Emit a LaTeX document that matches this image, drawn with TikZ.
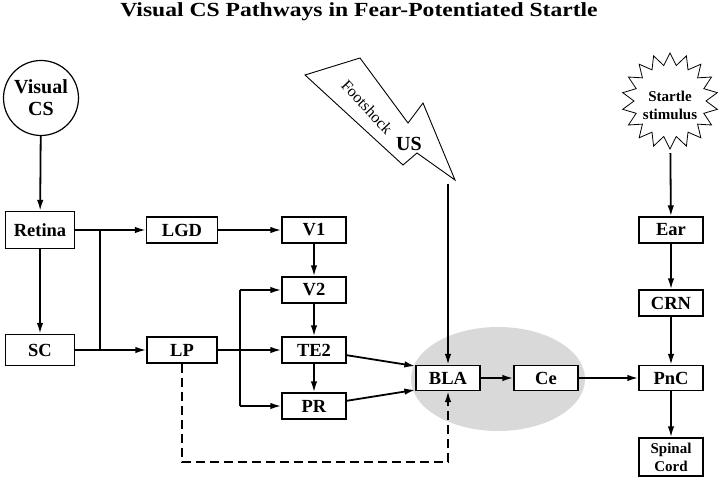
\documentclass[tikz,border=0pt]{standalone}
\usepackage{fontspec}
\setmainfont{Liberation Serif}
\usetikzlibrary{arrows.meta}

\tikzset{
  box/.style={draw, line width=1.3pt, fill=white, minimum width=64pt, minimum height=26pt, inner sep=0pt, font=\fontsize{18.5}{20}\selectfont\bfseries},
  conn/.style={line width=1.8pt, -{Latex[length=11pt, width=6.5pt]}},
  wire/.style={line width=1.8pt},
}

\begin{document}
\begin{tikzpicture}[x=1pt, y=-1pt]
\useasboundingbox (0,0) rectangle (720,478);
\node[anchor=base, font=\fontsize{20}{20}\selectfont\bfseries] (title) at (359,17) {\scalebox{1.18}[1]{Visual CS Pathways in Fear-Potentiated Startle}};

% amygdala
\fill[gray!30] (498,379) ellipse [x radius=87, y radius=52];

% stimuli
\node[draw, circle, line width=1.2pt, minimum size=75pt, inner sep=0pt, align=center, font=\fontsize{20}{22}\selectfont\bfseries] (cs) at (41,98) {Visual\\CS};
\draw[line width=0.8pt, shift={(670,101)}] (90:48) \foreach \i in {1,...,35} { -- ({90+10*\i}:{mod(\i,2)==0 ? 48 : 36}) } -- cycle;
\node[circle, minimum size=96pt, inner sep=0pt, align=center, font=\fontsize{15}{18}\selectfont\bfseries] (startle) at (670,105) {Startle\\stimulus};
\draw[line width=0.9pt, fill=white] (305,75) -- (360,58) -- (408,123) -- (423,103) -- (455,180) -- (417,153) -- (403,165) -- cycle;
\node[rotate=-47, font=\fontsize{16}{16}\selectfont] (footshock) at (367,107) {Footshock};
\node[font=\fontsize{20}{20}\selectfont\bfseries] (us) at (409,144) {US};
\coordinate (shock) at (448,184);

% boxes
\node[box, minimum width=69pt, minimum height=37pt] (retina) at (40,230) {Retina};
\node[box, minimum width=69pt, minimum height=31pt] (sc) at (40,350) {SC};
\node[box, minimum width=71pt] (lgd) at (182,230) {LGD};
\node[box, minimum width=70pt] (lp) at (182,350) {LP};
\node[box] (v1) at (314,230) {V1};
\node[box] (v2) at (314,290) {V2};
\node[box] (te2) at (314,350) {TE2};
\node[box] (pr) at (314,406) {PR};
\node[box, minimum height=25pt] (bla) at (448,378) {BLA};
\node[box, minimum height=25pt] (ce) at (546,378) {Ce};
\node[box, minimum height=25pt] (pnc) at (671,378) {PnC};
\node[box] (ear) at (671,230) {Ear};
\node[box] (crn) at (671,303) {CRN};
\node[box, minimum height=38pt, align=center, font=\fontsize{15}{18}\selectfont\bfseries] (cord) at (671,457) {Spinal\\Cord};

% junctions
\coordinate (j1) at (100,230);
\coordinate (j2) at (100,350);
\coordinate (k1) at (240,290);
\coordinate (k2) at (240,406);
\coordinate (loop) at (315,462);

% connections
\draw[conn] (cs) -- (retina);
\draw[conn] (retina) -- (sc);
\draw[conn] (retina) -- (lgd);
\draw[conn] (sc) -- (lp);
\draw[wire] (j1) -- (j2);
\draw[conn] (lgd) -- (v1);
\draw[conn] (v1) -- (v2);
\draw[conn] (v2) -- (te2);
\draw[conn] (te2) -- (pr);
\draw[conn] (lp) -- (te2);
\draw[wire] (k1) -- (k2);
\draw[conn] (k1) -- (v2);
\draw[conn] (k2) -- (pr);
\draw[conn] (te2) -- (bla.160);
\draw[conn] (pr) -- (bla.200);
\draw[conn, dash pattern=on 9pt off 5pt] (lp) |- (loop) -| (bla);
\draw[conn] (shock) -- (bla);
\draw[conn] (bla) -- (ce);
\draw[conn] (ce) -- (pnc);
\draw[conn] (startle) -- (ear);
\draw[conn] (ear) -- (crn);
\draw[conn] (crn) -- (pnc);
\draw[conn] (pnc) -- (cord);
\end{tikzpicture}
\end{document}
